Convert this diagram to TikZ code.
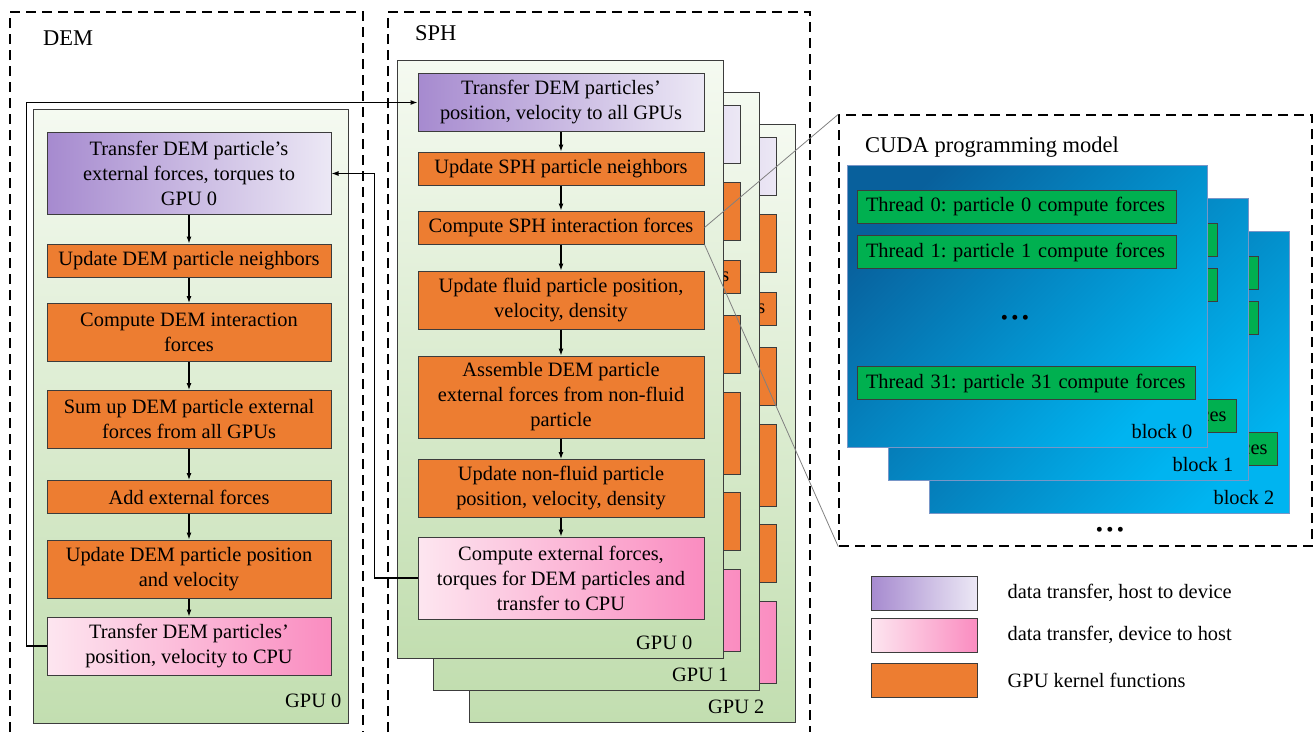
\documentclass[tikz,border=0pt]{standalone}
\usepackage{fontspec}
\setmainfont{Liberation Serif}
\usetikzlibrary{arrows.meta}
\frenchspacing
\definecolor{gpuTop}{RGB}{245,250,241}
\definecolor{gpuBot}{RGB}{194,222,176}
\definecolor{hostL}{RGB}{166,138,207}
\definecolor{hostR}{RGB}{236,232,245}
\definecolor{devL}{RGB}{253,230,240}
\definecolor{devR}{RGB}{250,140,192}
\definecolor{kernel}{RGB}{237,125,49}
\definecolor{thrd}{RGB}{0,176,80}
\definecolor{blkDark}{RGB}{8,96,156}
\definecolor{blkLight}{RGB}{0,180,240}
\definecolor{blkEdge}{RGB}{120,150,200}
\definecolor{edge}{RGB}{60,60,60}

\begin{document}
\begin{tikzpicture}[x=1pt,y=-1pt,
  font=\fontsize{20.4}{25}\selectfont,
  >={Latex[length=7pt,width=5pt]},
  frame/.style={draw,dash pattern=on 10pt off 6pt,line width=1.4pt},
  gpu/.style={draw=edge,line width=1pt,top color=gpuTop,bottom color=gpuBot},
  box/.style={draw=edge,line width=1pt,align=center,inner sep=2pt},
  kern/.style={box,fill=kernel},
  h2d/.style={box,left color=hostL,right color=hostR},
  d2h/.style={box,left color=devL,right color=devR},
  dw/.style={minimum width=284pt},
  sw/.style={minimum width=286pt},
  one/.style={minimum height=33pt},
  two/.style={minimum height=58pt},
  three/.style={minimum height=82pt},
  blk/.style={draw=blkEdge,line width=0.8pt,top color=blkDark,bottom color=blkLight,shading angle=45},
  thr/.style={draw=edge,line width=1pt,fill=thrd,align=left,inner xsep=9pt,inner ysep=0pt,minimum height=33pt},
  lbl/.style={inner sep=0pt},
  flow/.style={->,line width=1.1pt},
  zoomln/.style={gray,line width=0.8pt}]
\useasboundingbox (0,0) rectangle (1313,732);

% DEM frame
\draw[frame] (10,732) |- (363,12) -- (363,732);
\node[lbl,anchor=west] (demT) at (43,38) {\fontsize{22.5}{27}\selectfont DEM};
\node[gpu,minimum width=315pt,minimum height=614pt] (demG) at (190.5,416) {};
\node[lbl,anchor=east] at ([xshift=-7pt,yshift=23pt]demG.south east) {GPU 0};

\node[h2d,dw,three] (dA) at (189,173.5) {Transfer DEM particle’s\\external forces, torques to\\GPU 0};
\node[kern,dw,one] (dB) at (189,260.5) {Update DEM particle neighbors};
\node[kern,dw,two] (dC) at (189,332.5) {Compute DEM interaction\\forces};
\node[kern,dw,two] (dD) at (189,419.5) {Sum up DEM particle external\\forces from all GPUs};
\node[kern,dw,one] (dE) at (189,497) {Add external forces};
\node[kern,dw,two] (dF) at (189,569) {Update DEM particle position\\and velocity};
\node[d2h,dw,two] (dG) at (189,646) {Transfer DEM particles’\\position, velocity to CPU};
\foreach \a/\b in {A/B,B/C,C/D,D/E,E/F,F/G}
  \draw[flow] (d\a) -- (d\b);

% SPH frame, GPU 2 and GPU 1 behind
\draw[frame] (388,732) |- (810,12) -- (810,732);
\node[lbl,anchor=west] (sphT) at (415,33) {\fontsize{22.5}{27}\selectfont SPH};
\foreach \g/\dx/\dy in {2/72/64,1/36/32}{
  \begin{scope}[shift={(\dx,\dy)}]
  \node[gpu,minimum width=326pt,minimum height=598pt] (sph\g) at (560,359) {};
  \node[lbl,anchor=east] at ([xshift=-31pt,yshift=16pt]sph\g.south east) {GPU \g};
  \node[h2d,sw,two] (sA\g) at (561,102) {Transfer DEM particles’\\position, velocity to all GPUs};
  \node[kern,sw,two] (sB\g) at (561,179) {Update SPH particle\\neighbors};
  \node[kern,sw,one] (sC\g) at (561,244.5) {Compute SPH interaction forces};
  \node[kern,sw,two] (sD\g) at (561,312) {Update fluid particle position,\\velocity, density};
  \node[kern,sw,three] (sE\g) at (561,401.5) {Assemble DEM particle\\external forces from non-fluid\\particle};
  \node[kern,sw,two] (sF\g) at (561,489) {Update non-fluid particle\\position, velocity, density};
  \node[d2h,sw,three] (sG\g) at (561,578.5) {Compute external forces,\\torques for DEM particles and\\transfer to CPU};
  \foreach \a/\b in {A/B,B/C,C/D,D/E,E/F,F/G}
    \draw[flow] (s\a\g) -- (s\b\g);
  \end{scope}
}
% GPU 0 in front
\node[gpu,minimum width=326pt,minimum height=598pt] (sph0) at (560,359) {};
\node[lbl,anchor=east] at ([xshift=-31pt,yshift=16pt]sph0.south east) {GPU 0};
\node[h2d,sw,two] (sA) at (561,102.5) {Transfer DEM particles’\\position, velocity to all GPUs};
\node[kern,sw,one] (sB) at (561,168.5) {Update SPH particle neighbors};
\node[kern,sw,one] (sC) at (561,227.5) {Compute SPH interaction forces};
\node[kern,sw,two] (sD) at (561,300) {Update fluid particle position,\\velocity, density};
\node[kern,sw,three] (sE) at (561,397) {Assemble DEM particle\\external forces from non-fluid\\particle};
\node[kern,sw,two] (sF) at (561,488.5) {Update non-fluid particle\\position, velocity, density};
\node[d2h,sw,three] (sG) at (561,578) {Compute external forces,\\torques for DEM particles and\\transfer to CPU};
\foreach \a/\b in {A/B,B/C,C/D,D/E,E/F,F/G}
  \draw[flow] (s\a) -- (s\b);

% connectors between DEM and SPH
\draw[flow] (dG.west) -- ++(-20,0) |- (sA.west);
\draw[flow] (sG.west) -- ++(-43,0) |- (dA.east);

% CUDA programming model
\node[frame,minimum width=473pt,minimum height=431pt] (cuda) at (1075.5,330.5) {};
\node[lbl,anchor=west] (cudaT) at (865,147) {\fontsize{22.5}{27}\selectfont CUDA programming model};
\foreach \b/\dx/\dy in {2/82/66,1/41/33,0/0/0}{
  \begin{scope}[shift={(\dx,\dy)}]
  \node[blk,minimum width=360pt,minimum height=282pt] (blk\b) at (1027,306) {};
  \node[thr,text width=301pt] (tA\b) at (1016.5,206.5) {Thread 0: particle 0 compute forces};
  \node[thr,text width=301pt] (tB\b) at (1016.5,252) {Thread 1: particle 1 compute forces};
  \node[lbl] (tdots\b) at (1015,320) {•\,•\,•};
  \node[thr,text width=320pt] (tC\b) at (1026,383) {Thread 31: particle 31 compute forces};
  \node[lbl,anchor=east] at ([xshift=-15pt,yshift=16pt]blk\b.south east) {block \b};
  \end{scope}
}
\node[lbl] (bdots) at (1110,532) {•\,•\,•};
\draw[zoomln] (sC.east) -- (cuda.north west);
\draw[zoomln] (sC.south east) -- (cuda.south west);

% legend
\node[h2d,minimum width=106pt,minimum height=34pt] (lgA) at (924,593) {};
\node[d2h,minimum width=106pt,minimum height=34pt] (lgB) at (924,635) {};
\node[kern,minimum width=106pt,minimum height=34pt] (lgC) at (924,680) {};
\node[lbl,anchor=west] at ([xshift=30pt]lgA.east) {data transfer, host to device};
\node[lbl,anchor=west] at ([xshift=30pt]lgB.east) {data transfer, device to host};
\node[lbl,anchor=west] at ([xshift=30pt]lgC.east) {GPU kernel functions};
\end{tikzpicture}
\end{document}
